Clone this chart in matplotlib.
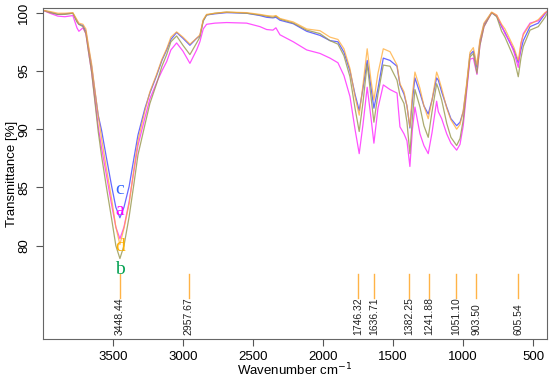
import numpy as np
from matplotlib import pyplot as plt

plt.rcParams["font.family"] = ["Liberation Sans", "DejaVu Sans"]

# wavenumbers (cm-1)
wn = [4000, 3950, 3893, 3843, 3786, 3757, 3743, 3714, 3693, 3676, 3652, 3629,
      3605, 3581, 3550, 3509, 3479, 3450, 3421, 3384, 3350, 3321, 3271, 3236,
      3188, 3150, 3116, 3086, 3045, 3000, 2950, 2902, 2879, 2855, 2831, 2771,
      2688, 2545, 2450, 2402, 2357, 2336, 2307, 2212, 2116, 2021, 1950, 1893,
      1850, 1807, 1771, 1741, 1714, 1684, 1657, 1636, 1607, 1569, 1521, 1471,
      1450, 1421, 1400, 1379, 1361, 1343, 1307, 1279, 1248, 1221, 1188, 1176,
      1152, 1116, 1086, 1045, 1021, 998, 974, 950, 926, 900, 879, 850, 795,
      759, 724, 700, 664, 636, 605, 586, 569, 521, 462, 414, 400]

# sample c (blue)
t_c = [100.2, 100.05, 99.85, 99.9, 99.95, 99.3, 99.0, 98.9, 98.4, 97.1, 95.4, 93.3,
       91.2, 89.9, 87.8, 85.1, 83.3, 82.4, 83.3, 85.1, 87.5, 89.5, 91.8, 93.1,
       94.6, 95.9, 96.8, 97.7, 98.3, 97.8, 97.2, 97.8, 98.0, 99.3, 99.8, 99.9,
       100.0, 99.95, 99.75, 99.6, 99.55, 99.6, 99.35, 99.05, 98.4, 98.05, 97.6, 97.5,
       96.6, 95.0, 93.0, 91.6, 93.5, 95.9, 93.6, 91.8, 93.5, 96.1, 95.9, 95.4,
       93.8, 93.0, 92.0, 90.1, 92.5, 94.4, 93.1, 92.0, 91.3, 92.5, 94.4, 94.2,
       93.2, 91.9, 90.9, 90.3, 90.6, 91.5, 93.7, 96.4, 96.7, 95.3, 97.5, 99.0, 100.0,
       99.7, 98.8, 98.3, 97.4, 96.8, 95.7, 96.8, 97.6, 98.8, 99.1, 99.9, 100.1]

# sample a (magenta)
t_a = [100.2, 99.95, 99.7, 99.65, 99.75, 98.7, 98.4, 98.7, 98.2, 96.8, 94.9, 92.6,
       90.2, 88.4, 86.3, 83.5, 81.6, 80.6, 81.6, 83.8, 86.4, 88.6, 91.0, 92.6,
       94.0, 95.0, 95.8, 96.8, 97.4, 96.7, 95.65, 96.8, 97.5, 98.6, 99.0, 99.1,
       99.15, 99.1, 98.8, 98.55, 98.5, 98.7, 98.1, 97.5, 96.8, 96.5, 96.1, 95.7,
       94.6, 92.8, 90.0, 87.9, 90.4, 93.6, 91.0, 88.8, 91.8, 93.8, 93.4, 93.1,
       90.2, 89.6, 89.0, 86.8, 90.0, 91.9, 89.6, 88.6, 87.9, 89.7, 92.4, 91.5,
       90.9, 89.6, 88.8, 88.2, 88.7, 90.3, 93.2, 96.0, 96.1, 94.7, 97.2, 98.8, 100.0,
       99.75, 98.9, 98.2, 97.5, 96.6, 95.3, 97.3, 98.2, 99.1, 99.3, 99.95, 100.1]

# sample b (olive)
t_b = [100.2, 100.0, 99.85, 99.85, 99.95, 99.2, 99.0, 98.8, 98.2, 96.8, 94.9, 92.4,
       89.8, 87.7, 85.3, 82.3, 80.0, 78.9, 80.0, 82.5, 85.3, 87.8, 90.4, 92.2,
       93.9, 95.4, 96.4, 97.5, 98.0, 97.2, 96.4, 97.4, 97.9, 99.3, 99.8, 99.95,
       100.05, 99.95, 99.8, 99.7, 99.6, 99.7, 99.45, 99.1, 98.5, 98.2, 97.6, 97.3,
       96.3, 94.5, 91.8, 89.8, 92.3, 95.6, 92.8, 90.6, 93.0, 95.5, 95.4, 94.2,
       92.9, 92.2, 90.6, 87.9, 91.0, 93.4, 91.9, 90.3, 89.3, 91.5, 93.9, 93.5,
       92.5, 90.5, 89.3, 88.6, 89.2, 90.8, 93.5, 96.2, 96.5, 94.8, 97.2, 98.8, 100.0,
       99.65, 98.4, 97.9, 96.9, 96.1, 94.5, 96.1, 97.1, 98.5, 98.8, 99.6, 99.9]

# sample d (orange)
t_d = [100.2, 100.1, 99.95, 99.95, 100.0, 99.4, 99.1, 99.0, 98.6, 97.3, 95.6, 93.4,
       91.2, 89.2, 86.9, 84.0, 81.6, 80.1, 81.5, 83.6, 86.6, 89.0, 91.6, 93.2,
       94.7, 96.0, 96.9, 97.9, 98.35, 97.9, 97.3, 97.8, 98.1, 99.4, 99.85, 99.95,
       100.05, 100.0, 99.85, 99.75, 99.7, 99.75, 99.5, 99.2, 98.6, 98.45, 97.9, 97.7,
       96.9, 95.2, 92.8, 91.2, 93.8, 96.9, 94.2, 92.5, 94.8, 96.9, 96.65, 95.5,
       93.9, 93.2, 92.0, 90.2, 93.0, 94.9, 93.5, 92.0, 90.9, 92.5, 94.9, 94.5,
       93.5, 91.8, 90.8, 90.0, 90.4, 91.6, 93.9, 96.6, 97.0, 95.5, 97.7, 99.1, 100.05,
       99.8, 99.0, 98.6, 97.7, 97.0, 95.9, 97.4, 98.1, 99.0, 99.4, 100.0, 100.1]

peaks = [3448.44, 2957.67, 1746.32, 1636.71, 1382.25, 1241.88, 1051.10, 903.50, 605.54]
peak_labels = ["3448.44", "2957.67", "1746.32", "1636.71", "1382.25",
               "1241.88", "1051.10", "903.50", "605.54"]

fig = plt.figure(figsize=(5.5, 3.8), dpi=100)
ax = fig.add_axes([0.078, 0.108, 0.9165, 0.871])

ax.plot(wn, t_c, color="#4d4dff", lw=0.9, alpha=0.85)
ax.plot(wn, t_a, color="#ff33ff", lw=0.9, alpha=0.85)
ax.plot(wn, t_b, color="#9c9c55", lw=0.9, alpha=0.85)
ax.plot(wn, t_d, color="#ffaa33", lw=0.9, alpha=0.75)

# sample letters
ax.text(3450, 84.8, "c", color="#3366ff", fontsize=14, family="Liberation Serif",
        ha="center", va="center")
ax.text(3450, 83.0, "a", color="#ff00ff", fontsize=14, family="Liberation Serif",
        ha="center", va="center")
ax.text(3450, 79.9, "d", color="#ffb000", fontsize=14, family="Liberation Serif",
        ha="center", va="center")
ax.text(3450, 78.0, "b", color="#00a050", fontsize=14, family="Liberation Serif",
        ha="center", va="center")

# peak markers
for p, lab in zip(peaks, peak_labels):
    ax.plot([p, p], [75.5, 77.6], color="#ffb347", lw=1)
    ax.text(p, 72.3, lab, rotation=90, ha="center", va="bottom", fontsize=7.5,
            color="#222222")

ax.set_xlim(4000, 400)
ax.set_ylim(72.0, 100.4)
ax.set_xticks([3500, 3000, 2500, 2000, 1500, 1000, 500])
ax.set_yticks([80, 85, 90, 95, 100])
ax.set_yticklabels(["80", "85", "90", "95", "100"], rotation=90, va="center")
ax.tick_params(labelsize=9.5, length=5, color="#555555", pad=4)
for s in ax.spines.values():
    s.set_color("#666666")
ax.set_xlabel("Wavenumber cm$^{-1}$", fontsize=9.5)
ax.set_ylabel("Transmittance [%]", fontsize=9.5)
ax.xaxis.set_label_coords(0.5, -0.07)
ax.yaxis.set_label_coords(-0.05, 0.5)

fig.savefig("out.png", dpi=100)
